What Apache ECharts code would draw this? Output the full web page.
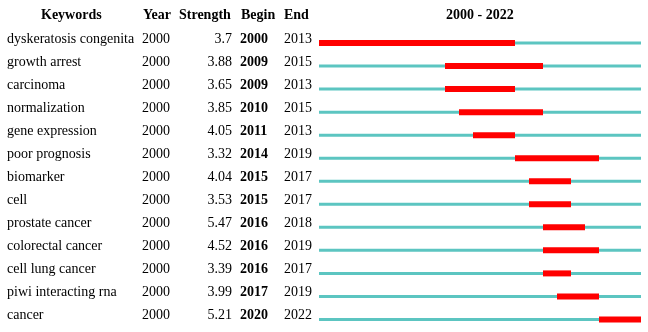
<!DOCTYPE html>
<html>
<head>
<meta charset="utf-8">
<script src="https://cdn.jsdelivr.net/npm/echarts@6/dist/echarts.min.js"></script>
<style>
  html, body { margin: 0; padding: 0; background: #fff; }
  #chart { width: 648px; height: 332px; }
</style>
</head>
<body>
<div id="chart"></div>
<script>
const keywords = ['dyskeratosis congenita', 'growth arrest', 'carcinoma', 'normalization', 'gene expression',
  'poor prognosis', 'biomarker', 'cell', 'prostate cancer', 'colorectal cancer', 'cell lung cancer',
  'piwi interacting rna', 'cancer']
const years = [2000, 2000, 2000, 2000, 2000, 2000, 2000, 2000, 2000, 2000, 2000, 2000, 2000]
const strengths = ['3.7', '3.88', '3.65', '3.85', '4.05', '3.32', '4.04', '3.53', '5.47', '4.52', '3.39', '3.99', '5.21']
const begins = [2000, 2009, 2009, 2010, 2011, 2014, 2015, 2015, 2016, 2016, 2016, 2017, 2020]
const ends = [2013, 2015, 2013, 2015, 2013, 2019, 2017, 2017, 2018, 2019, 2017, 2019, 2022]
const startYear = 2000
const endYear = 2022

const font = '"Liberation Serif", "Times New Roman", serif'
const chart = echarts.init(document.getElementById('chart'))

// one item per row: [index, begin, end]
const rows = keywords.map((k, i) => [i, begins[i], ends[i]])

function renderItem(params, api) {
  const idx = api.value(0)
  const b = api.value(1)
  const e = api.value(2)
  const yc = api.coord([startYear, idx])[1] + 4
  const x0 = api.coord([startYear, idx])[0]
  const x1 = api.coord([endYear + 1, idx])[0]
  const rb = api.coord([b, idx])[0]
  const re = api.coord([e + 1, idx])[0]
  return {
    type: 'group',
    children: [
      { type: 'rect', shape: { x: x0, y: yc - 1.5, width: x1 - x0, height: 3 }, style: { fill: '#5cc5c1' } },
      { type: 'rect', shape: { x: rb, y: yc - 3, width: re - rb, height: 6 }, style: { fill: '#ff0000' } }
    ]
  }
}

// each text column is its own category axis on the same grid
function columnAxis(margin, align, bold, fmt) {
  return {
    type: 'category',
    inverse: true,
    position: 'left',
    data: keywords,
    axisLine: { show: false },
    axisTick: { show: false },
    splitLine: { show: false },
    axisLabel: {
      margin: margin,
      align: align,
      interval: 0,
      fontFamily: font,
      fontSize: 14,
      fontWeight: bold ? 'bold' : 'normal',
      color: '#000',
      formatter: fmt
    }
  }
}

const headStyle = { fontFamily: font, fontSize: 14, fontWeight: 'bold', color: '#000' }

const option = {
  animation: false,
  title: [
    { text: 'Keywords', left: 41, top: 8, padding: 0, textStyle: headStyle },
    { text: 'Year', left: 143, top: 8, padding: 0, textStyle: headStyle },
    { text: 'Strength', left: 179, top: 8, padding: 0, textStyle: headStyle },
    { text: 'Begin', left: 241, top: 8, padding: 0, textStyle: headStyle },
    { text: 'End', left: 284, top: 8, padding: 0, textStyle: headStyle },
    { text: startYear + ' - ' + endYear, left: 446, top: 8, padding: 0, textStyle: headStyle }
  ],
  grid: { left: 319, right: 7, top: 27.5, bottom: 5 },
  xAxis: { type: 'value', min: startYear, max: endYear + 1, show: false },
  yAxis: [
    columnAxis(312, 'left', false, (v) => v),
    columnAxis(177, 'left', false, (v, i) => String(years[i])),
    columnAxis(87, 'right', false, (v, i) => strengths[i]),
    columnAxis(79, 'left', true, (v, i) => String(begins[i])),
    columnAxis(35, 'left', false, (v, i) => String(ends[i]))
  ],
  series: [{
    type: 'custom',
    renderItem: renderItem,
    encode: { x: [1, 2], y: 0 },
    yAxisIndex: 0,
    data: rows
  }]
}

chart.setOption(option)
</script>
</body>
</html>
